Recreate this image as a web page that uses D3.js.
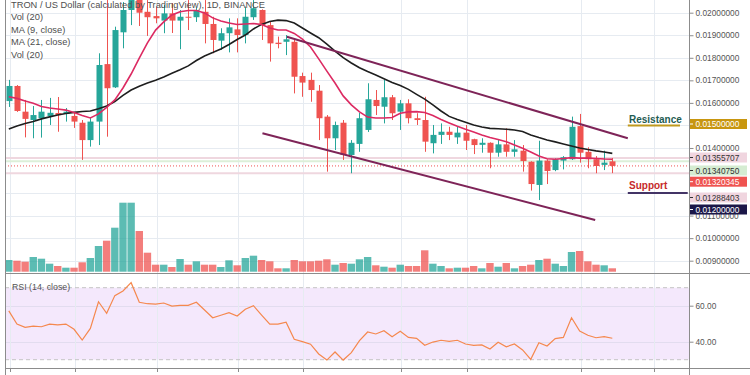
<!DOCTYPE html>
<html><head><meta charset="utf-8">
<script src="https://cdn.jsdelivr.net/npm/d3@7"></script>
<style>html,body{margin:0;padding:0;background:#fff;overflow:hidden}text{font-family:"Liberation Sans",Arial,sans-serif}</style>
</head><body><svg id="c" width="750" height="375"></svg>
<script>
// ---- data ----
const opens=[0.01608,0.01675,0.01561,0.01524,0.01532,0.01542,0.01555,0.01551,0.01542,0.01512,0.01435,0.01517,0.01772,0.01669,0.01913,0.02012,0.02070,0.02004,0.01985,0.01965,0.01997,0.01965,0.01982,0.01980,0.02004,0.01950,0.01876,0.01909,0.01926,0.01901,0.01980,0.02012,0.01945,0.01867,0.01871,0.01871,0.01719,0.01702,0.01654,0.01539,0.01443,0.01512,0.01369,0.01418,0.01480,0.01613,0.01583,0.01625,0.01561,0.01598,0.01532,0.01524,0.01421,0.01458,0.01472,0.01447,0.01468,0.01439,0.01414,0.01423,0.01379,0.01416,0.01383,0.01388,0.01339,0.01236,0.01344,0.01302,0.01344,0.01350,0.01497,0.01383,0.01350,0.01325,0.0134075];
const highs=[0.01702,0.01679,0.01613,0.01586,0.01613,0.01622,0.01626,0.01577,0.01556,0.01524,0.01533,0.01820,0.02056,0.01938,0.02047,0.02083,0.02083,0.02056,0.02025,0.02034,0.02043,0.02012,0.02056,0.02021,0.02056,0.01982,0.01931,0.01975,0.01975,0.02027,0.02056,0.02015,0.01960,0.01894,0.01901,0.01879,0.01734,0.01734,0.01679,0.01546,0.01517,0.01524,0.01435,0.01555,0.01687,0.01657,0.01702,0.01635,0.01613,0.01616,0.01554,0.01627,0.01502,0.01509,0.01494,0.01494,0.01502,0.01441,0.01443,0.01425,0.01435,0.01487,0.01435,0.01413,0.01341,0.01432,0.01350,0.01354,0.01364,0.01539,0.01551,0.01403,0.01364,0.01388,0.01355707];
const lows=[0.01582,0.01560,0.01447,0.01443,0.01446,0.01502,0.01472,0.01517,0.01489,0.01347,0.01406,0.01413,0.01450,0.01666,0.01842,0.01945,0.01941,0.01897,0.01953,0.01909,0.01910,0.01838,0.01923,0.01959,0.01864,0.01820,0.01835,0.01824,0.01824,0.01864,0.01968,0.01879,0.01783,0.01842,0.01812,0.01642,0.01627,0.01605,0.01435,0.01295,0.01391,0.01347,0.01288,0.01383,0.01471,0.01546,0.01509,0.01524,0.01480,0.01509,0.01502,0.01383,0.01376,0.01418,0.01435,0.01418,0.01391,0.01373,0.01379,0.01310,0.01361,0.01361,0.01361,0.01295,0.01211,0.01169,0.01240,0.01297,0.01305,0.01347,0.01335,0.01310,0.01288,0.01302,0.01288403];
const closes=[0.01675,0.01564,0.01529,0.01546,0.01561,0.01556,0.01546,0.01561,0.01517,0.01435,0.01517,0.01768,0.01665,0.01923,0.02012,0.02070,0.02000,0.01980,0.01975,0.01997,0.01965,0.01982,0.01980,0.02012,0.01950,0.01879,0.01909,0.01935,0.01901,0.01982,0.02020,0.01945,0.01864,0.01861,0.01882,0.01716,0.01690,0.01657,0.01532,0.01443,0.01502,0.01369,0.01423,0.01532,0.01616,0.01586,0.01625,0.01554,0.01598,0.01532,0.01524,0.01428,0.01458,0.01472,0.01458,0.01468,0.01432,0.01413,0.01423,0.01379,0.01416,0.01383,0.01394,0.01342,0.01240,0.01344,0.01298,0.01350,0.01359,0.01494,0.01379,0.01350,0.01320,0.01335,0.01320345];
const volumes=[117,110,100,147,130,80,57,40,40,94,137,257,310,440,690,690,407,190,70,70,47,127,70,104,70,70,47,114,64,137,160,117,104,34,34,117,104,104,110,124,70,87,80,124,147,64,50,40,70,57,57,214,80,57,34,40,40,57,34,87,50,87,34,57,70,117,130,80,57,197,207,104,70,64,34];
const ma9=[0.01627,0.01620,0.01608,0.01598,0.01584,0.01577,0.01573,0.01568,0.01557,0.01544,0.01533,0.01551,0.01580,0.01613,0.01666,0.01728,0.01799,0.01866,0.01923,0.01959,0.01990,0.02004,0.02010,0.02010,0.01999,0.01977,0.01963,0.01954,0.01948,0.01950,0.01952,0.01948,0.01932,0.01923,0.01923,0.01908,0.01883,0.01848,0.01795,0.01741,0.01688,0.01631,0.01591,0.01560,0.01537,0.01533,0.01533,0.01535,0.01554,0.01560,0.01561,0.01557,0.01544,0.01526,0.01511,0.01496,0.01483,0.01471,0.01458,0.01446,0.01438,0.01428,0.01413,0.01399,0.01382,0.01364,0.01352,0.01350,0.01353,0.01357,0.01355,0.01355,0.01353,0.01351,0.01350];
const ma21=[0.01484,0.01497,0.01509,0.01517,0.01529,0.01538,0.01546,0.01553,0.01558,0.01562,0.01564,0.01574,0.01586,0.01606,0.01633,0.01657,0.01674,0.01688,0.01700,0.01715,0.01731,0.01747,0.01764,0.01788,0.01808,0.01823,0.01839,0.01859,0.01881,0.01901,0.01928,0.01948,0.01961,0.01967,0.01965,0.01954,0.01932,0.01910,0.01889,0.01861,0.01830,0.01801,0.01777,0.01756,0.01739,0.01724,0.01707,0.01690,0.01677,0.01660,0.01638,0.01617,0.01591,0.01564,0.01540,0.01526,0.01514,0.01502,0.01493,0.01487,0.01485,0.01483,0.01480,0.01473,0.01458,0.01446,0.01435,0.01427,0.01418,0.01409,0.01400,0.01393,0.01387,0.01382,0.01376];
const rsi=[57.1,49.8,48,48.7,48.3,49.8,49.3,49.8,46.9,40.9,47.4,62.2,55.8,65.6,68.2,72.8,61.9,61.1,60.9,61.5,59.8,60.2,60.2,61.9,57.6,53.3,54.7,56.1,54.3,58,60,54.8,49.8,49.8,50.8,41.3,40,38.6,33.2,29.8,34.3,29.8,33.9,40.6,45.4,44.3,46.1,42.8,45.8,42.4,41.9,38,39.8,40.8,40.2,40.8,38.7,38,38.2,35.9,39.7,37.2,38.7,35.4,30.2,39.4,37.6,41.7,42.4,53.3,45.9,43.6,42.2,42.8,41.9];
const priceTicks=[0.020,0.019,0.018,0.017,0.016,0.015,0.014,0.012,0.011,0.010,0.009];
const rsiTicks=[60,40];
const timeGridIdx=[0,8,18,28,36,48,56,70,79];
const upperChannel=[[34.1,0.018935],[75.9,0.014429]];
const lowerChannel=[[31.1,0.014651],[71.9,0.010805]];
const resistanceLevel=0.015, supportLevel=0.012;
const lastOpen=0.0134075, lastHigh=0.01355707, lastLow=0.01288403, lastClose=0.01320345;
const legendLines=["TRON / US Dollar (calculated by TradingView), 1D, BINANCE","Vol (20)","MA (9, close)","MA (21, close)","Vol (20)"];
const priceTags=[
  {v:0.015,txt:"0.01500000",bg:"#c8960f",fg:"#fff",cy:124},
  {v:lastHigh,txt:"0.01355707",bg:"#f0d5df",fg:"#333",cy:157.5},
  {v:lastOpen,txt:"0.01340750",bg:"#d5ecd2",fg:"#333",cy:170.5},
  {v:lastClose,txt:"0.01320345",bg:"#ef5350",fg:"#fff",cy:181.7},
  {v:lastLow,txt:"0.01288403",bg:"#f0d5df",fg:"#333",cy:197.5},
  {v:0.012,txt:"0.01200000",bg:"#1b1748",fg:"#fff",cy:209.5}
];

// ---- layout ----
const paneL=5,paneR=689,mainBot=273,rsiBot=368;
const UP="#26a69a",DN="#ef5350";
const svg=d3.select('#c');
const x=d3.scaleLinear().domain([0,74]).range([8.8,612.3]);
const y=d3.scaleLinear().domain([0.009,0.020]).range([260.7,12.7]);
const yVol=d3.scaleLinear().domain([0,690]).range([271.7,202.7]);
const yR=d3.scaleLinear().domain([30,70]).range([359.7,287.7]);
const data=opens.map((o,i)=>({i,o,h:highs[i],l:lows[i],c:closes[i],v:volumes[i]}));
const taggedLevels=priceTags.map(t=>t.v);
const axisLabelTicks=priceTicks.filter(t=>!taggedLevels.some(v=>Math.abs(v-t)<1e-9));

svg.append('rect').attr('width',750).attr('height',375).attr('fill','#fff');
// RSI band
svg.append('rect').attr('x',paneL).attr('width',paneR-paneL).attr('y',yR(70)).attr('height',yR(30)-yR(70)).attr('fill','#f4e8fc');
// grids
const g=svg.append('g').attr('stroke','#e6ebf1').attr('stroke-width',1);
g.selectAll('.hg').data(priceTicks).enter().append('line').attr('x1',paneL).attr('x2',paneR).attr('y1',d=>Math.round(y(d))+0.5).attr('y2',d=>Math.round(y(d))+0.5);
g.selectAll('.rg').data(rsiTicks).enter().append('line').attr('x1',paneL).attr('x2',paneR).attr('y1',d=>Math.round(yR(d))+0.5).attr('y2',d=>Math.round(yR(d))+0.5).attr('stroke','#e2dcef');
g.selectAll('.vg').data(timeGridIdx).enter().append('line').attr('x1',d=>Math.round(x(d))+1.5).attr('x2',d=>Math.round(x(d))+1.5).attr('y1',0).attr('y2',rsiBot);
// RSI dashed bounds
svg.selectAll('.rb').data([70,30]).enter().append('line').attr('x1',paneL).attr('x2',paneR).attr('y1',d=>yR(d)).attr('y2',d=>yR(d)).attr('stroke','#c4c4c4').attr('stroke-dasharray','4,3');

// horizontal price lines of last bar
svg.append('line').attr('x1',paneL).attr('x2',paneR).attr('y1',y(lastHigh)).attr('y2',y(lastHigh)).attr('stroke','#efd7df').attr('stroke-width',2);
svg.append('line').attr('x1',paneL).attr('x2',paneR).attr('y1',y(lastLow)).attr('y2',y(lastLow)).attr('stroke','#efd7df').attr('stroke-width',2);
svg.append('line').attr('x1',paneL).attr('x2',paneR).attr('y1',y(lastOpen)).attr('y2',y(lastOpen)).attr('stroke','#dcefd9').attr('stroke-width',2);

// volume
svg.append('g').selectAll('rect').data(data).enter().append('rect')
  .attr('x',d=>x(d.i)-3.7).attr('width',7.4)
  .attr('y',d=>yVol(d.v)).attr('height',d=>yVol(0)-yVol(d.v))
  .attr('fill',d=>d.c>=d.o?UP:DN).attr('opacity',0.75);

svg.append('line').attr('x1',paneL).attr('x2',paneR).attr('y1',y(lastClose)).attr('y2',y(lastClose)).attr('stroke',DN).attr('stroke-dasharray','1,2');

// candles
const cg=svg.append('g');
cg.selectAll('line').data(data).enter().append('line')
  .attr('x1',d=>Math.round(x(d.i))+0.5).attr('x2',d=>Math.round(x(d.i))+0.5)
  .attr('y1',d=>y(d.h)).attr('y2',d=>y(d.l)).attr('stroke',d=>d.c>=d.o?UP:DN).attr('stroke-width',1);
cg.selectAll('rect').data(data).enter().append('rect')
  .attr('x',d=>Math.round(x(d.i))-2.5).attr('width',6)
  .attr('y',d=>y(Math.max(d.o,d.c))).attr('height',d=>Math.max(1,Math.abs(y(d.o)-y(d.c))))
  .attr('fill',d=>d.c>=d.o?UP:DN);

// moving averages
const ln=d3.line().x((d,i)=>x(i)).y(d=>y(d));
svg.append('path').attr('d',ln(ma21)).attr('fill','none').attr('stroke','#1e1e1e').attr('stroke-width',1.6);
svg.append('path').attr('d',ln(ma9)).attr('fill','none').attr('stroke','#dc2a62').attr('stroke-width',1.6);

// channel
const tl=d3.line().x(d=>x(d[0])).y(d=>y(d[1]));
[upperChannel,lowerChannel].forEach(c=>svg.append('path').attr('d',tl(c)).attr('fill','none').attr('stroke','#7e2458').attr('stroke-width',2));

// support / resistance annotations
svg.append('line').attr('x1',x(75.9)).attr('x2',x(82.3)).attr('y1',y(resistanceLevel)).attr('y2',y(resistanceLevel)).attr('stroke','#c09a1e').attr('stroke-width',2);
svg.append('text').attr('x',629).attr('y',y(resistanceLevel)-2.6).attr('font-size',10).attr('font-weight','bold').attr('fill','#1f5c52').text('Resistance');
svg.append('line').attr('x1',x(75.9)).attr('x2',x(83.25)).attr('y1',y(supportLevel)).attr('y2',y(supportLevel)).attr('stroke','#433466').attr('stroke-width',2);
svg.append('text').attr('x',629).attr('y',y(supportLevel)-3.7).attr('font-size',10).attr('font-weight','bold').attr('fill','#c62a2a').text('Support');

// RSI line
const rl=d3.line().x((d,i)=>x(i)).y(d=>yR(d));
svg.append('path').attr('d',rl(rsi)).attr('fill','none').attr('stroke','#f5884e').attr('stroke-width',1.2);

// legends
svg.selectAll('.lg').data(legendLines).enter().append('text').attr('x',11).attr('y',(d,i)=>7.5+i*12.5)
  .attr('font-size',9.3).attr('fill','#4e4e4e').text(d=>d);
svg.append('text').attr('x',12).attr('y',289.5).attr('font-size',8.8).attr('fill','#555').text('RSI (14, close)');

// frame
const fr=svg.append('g').attr('stroke','#8c8c8c').attr('stroke-width',1);
fr.append('line').attr('x1',paneL+0.5).attr('x2',paneL+0.5).attr('y1',0).attr('y2',375);
fr.append('line').attr('x1',paneR+0.5).attr('x2',paneR+0.5).attr('y1',0).attr('y2',375);
fr.append('line').attr('x1',paneL).attr('x2',750).attr('y1',mainBot+0.5).attr('y2',mainBot+0.5);
fr.append('line').attr('x1',paneL).attr('x2',750).attr('y1',rsiBot+0.5).attr('y2',rsiBot+0.5);
fr.selectAll('.tt').data(timeGridIdx).enter().append('line').attr('x1',d=>Math.round(x(d))+1.5).attr('x2',d=>Math.round(x(d))+1.5).attr('y1',rsiBot).attr('y2',rsiBot+4);

// price axis (levels that carry a coloured tag get their label from the tag)
const ax=svg.append('g').attr('transform',`translate(${paneR+0.5},0)`)
  .call(d3.axisRight(y).tickValues(axisLabelTicks).tickSize(4).tickFormat(d3.format('.8f')));
ax.select('.domain').remove();
ax.selectAll('line').attr('stroke','#8c8c8c');
ax.selectAll('text').attr('font-size',8.3).attr('fill','#555').attr('x',6).style('font-family','"Liberation Sans",Arial,sans-serif');
// RSI axis
const rax=svg.append('g').attr('transform',`translate(${paneR+0.5},0)`)
  .call(d3.axisRight(yR).tickValues(rsiTicks).tickSize(4).tickFormat(d3.format('.2f')));
rax.select('.domain').remove();
rax.selectAll('line').attr('stroke','#8c8c8c');
rax.selectAll('text').attr('font-size',8.3).attr('fill','#555').attr('x',6).style('font-family','"Liberation Sans",Arial,sans-serif');

// price tags
const tg=svg.append('g').selectAll('g').data(priceTags).enter().append('g');
tg.append('rect').attr('x',paneR+1).attr('width',57).attr('y',d=>d.cy-5).attr('height',10).attr('fill',d=>d.bg);
tg.append('line').attr('x1',paneR+1).attr('x2',paneR+4).attr('y1',d=>d.cy).attr('y2',d=>d.cy).attr('stroke',d=>d.fg);
tg.append('text').attr('x',paneR+6.5).attr('y',d=>d.cy+3).attr('font-size',8.3).attr('fill',d=>d.fg).text(d=>d.txt);
</script></body></html>
